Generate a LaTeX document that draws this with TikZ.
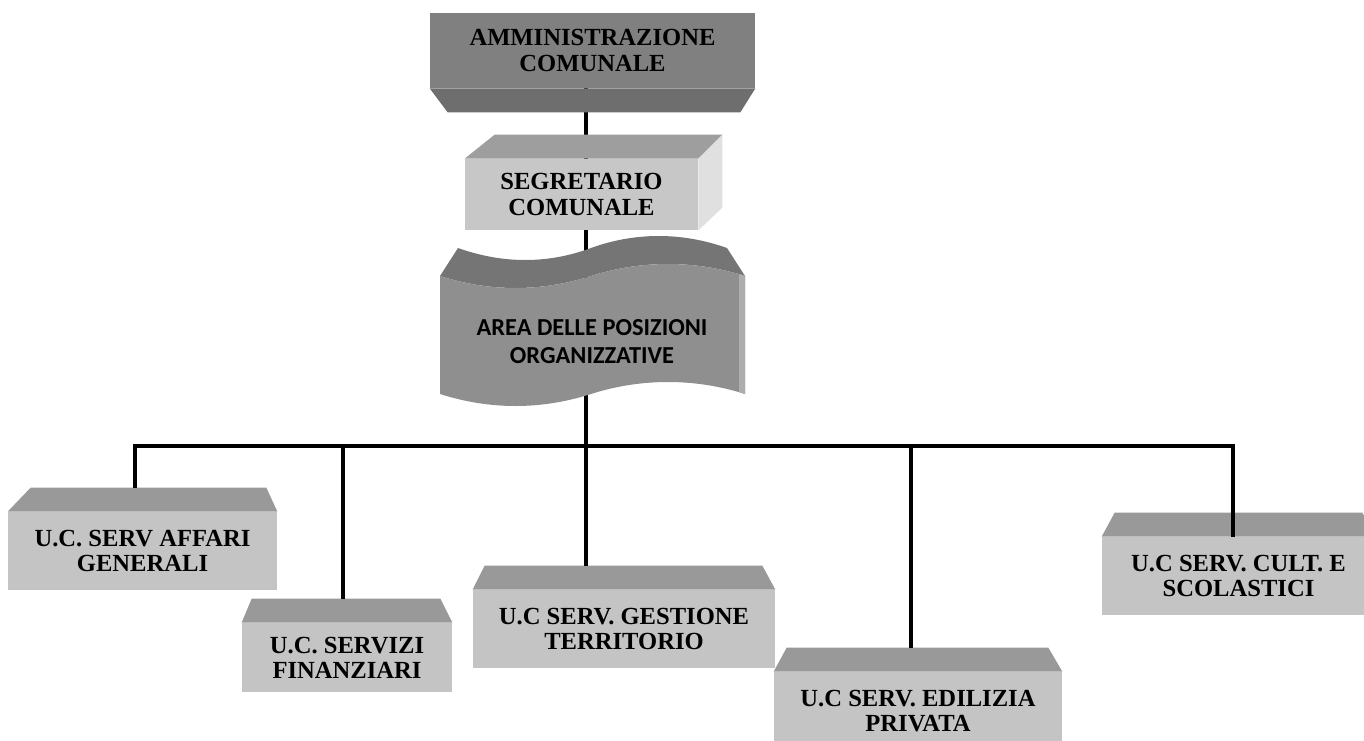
\documentclass[tikz,border=0pt]{standalone}
\usepackage{fontspec}
\setmainfont{Liberation Serif}
\newfontfamily\calfont{Carlito}
\usetikzlibrary{calc,backgrounds}

\definecolor{ammfront}{gray}{0.50}
\definecolor{ammbevel}{gray}{0.43}
\definecolor{segfront}{gray}{0.78}
\definecolor{segtop}{gray}{0.62}
\definecolor{segside}{gray}{0.88}
\definecolor{wavefront}{gray}{0.56}
\definecolor{wavetop}{gray}{0.46}
\definecolor{waveside}{gray}{0.68}
\definecolor{unitfront}{gray}{0.77}
\definecolor{unittop}{gray}{0.60}

% sloped top face over a unit box: node, left inset, right inset
\newcommand{\unitroof}[3]{%
  \fill[unittop] (#1.north west) -- ++(#2,-24) -- ($(#1.north east)+(-#3,-24)$) -- (#1.north east) -- cycle;}

\begin{document}
\begin{tikzpicture}[x=0.02cm, y=-0.02cm,
    every node/.style={align=center, inner sep=0pt},
    txt/.style={font=\bfseries\fontsize{14}{14.4}\selectfont},
    unit/.style={txt, fill=unitfront, minimum height=78*0.02cm},
    link/.style={line width=2.1pt, draw=black},
  ]
  \useasboundingbox (0,0) rectangle (1364,740);
  \clip (0,0) rectangle (1364,740);

  % Top of the chart
  \node[txt, fill=ammfront, minimum width=325*0.02cm, minimum height=75*0.02cm] (amm) at (592.5,50.5) {AMMINISTRAZIONE\\COMUNALE};
  \fill[ammbevel] (amm.south west) -- ++(18,24) -- ($(amm.south east)+(-15,24)$) -- (amm.south east) -- cycle;

  \node[txt, fill=segfront, minimum width=233*0.02cm, minimum height=71*0.02cm] (seg) at (581.5,194.5) {SEGRETARIO\\COMUNALE};
  \fill[segtop] (seg.north west) -- ++(30,-24) -- ($(seg.north east)+(24,-24)$) -- (seg.north east) -- cycle;
  \fill[segside] (seg.north east) -- ++(24,-24) -- ++(0,73) -- (seg.south east) -- cycle;

  % Wave (punched tape)
  \fill[wavetop] (440,276) .. controls (490,292) and (541,292) .. (591,276)
    .. controls (641,260) and (695,260) .. (745,276) -- (727,248)
    .. controls (682,232) and (635,232) .. (591,248)
    .. controls (548,264) and (503,264) .. (458,248) -- cycle;
  \fill[wavefront] (440,276) .. controls (490,292) and (541,292) .. (591,276)
    .. controls (641,260) and (695,260) .. (745,276) -- (745,394)
    .. controls (695,378) and (641,378) .. (591,394)
    .. controls (541,410) and (490,410) .. (440,394) -- cycle;
  \fill[waveside] (739,274) -- (745,276) -- (745,394) -- (739,392) -- cycle;
  \node[font=\calfont\bfseries\fontsize{13.9}{16}\selectfont] (area) at (592,342) {AREA DELLE POSIZIONI\\ORGANIZZATIVE};

  \coordinate (bus) at (586,446);

  % Trunk, behind the top boxes
  \begin{scope}[on background layer]
    \draw[link] (amm.south -| bus) -- (bus);
  \end{scope}

  % Units
  \node[unit, minimum width=269*0.02cm] (aff)  at (142.5,551)  {U.C. SERV AFFARI\\GENERALI};
  \node[unit, minimum width=210*0.02cm, minimum height=69*0.02cm] (fin) at (347,657.5) {U.C. SERVIZI\\FINANZIARI};
  \node[unit, minimum width=302*0.02cm] (gest) at (624,629)    {U.C SERV. GESTIONE\\TERRITORIO};
  \node[unit, minimum width=288*0.02cm] (edil) at (918,711)    {U.C SERV. EDILIZIA\\PRIVATA};
  \node[unit, minimum width=273*0.02cm] (cult) at (1238.5,576) {U.C SERV. CULT. E\\SCOLASTICI};
  \unitroof{aff}{23}{11}
  \unitroof{fin}{10}{12}
  \unitroof{gest}{12}{13}
  \unitroof{edil}{13}{14}
  \unitroof{cult}{13}{13}

  % Bus and drops
  \draw[link] ($(aff.north)+(-7.5,-24)$) |- (bus) -| ($(cult.north)+(-5.5,0)$);
  \draw[link] ($(fin.north)+(-4,-24)$) |- (bus);
  \draw[link] ($(gest.north)+(-38,-24)$) |- (bus);
  \draw[link] ($(edil.north)+(-7,-24)$) |- (bus);
\end{tikzpicture}
\end{document}
